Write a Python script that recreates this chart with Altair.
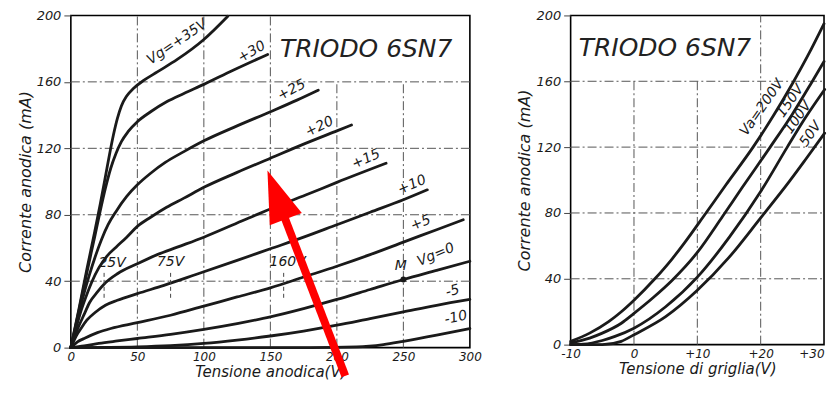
import altair as alt
import pandas as pd

FONT = "DejaVu Sans"
INK = "#1a1a1a"
GRID = "#555555"

# ---------------- Left panel: anode characteristics Ia(Va), one curve per grid voltage
vg35_v = [0, 6, 12, 18, 22, 26, 29, 32, 35, 38, 42, 47, 55, 65, 80, 100, 118]
vg35_i = [0, 23, 47, 70, 86, 103, 116, 128, 138, 145.5, 151.5, 156, 161, 166, 173.5, 185.5, 199.5]
vg30_v = [0, 6, 12, 18, 22, 26, 30, 34, 38, 43, 50, 60, 72, 85, 100, 122, 148]
vg30_i = [0, 22, 45, 67, 82, 96, 108, 117, 124, 130, 136, 142, 148, 153, 158.5, 167, 176.5]
vg25_v = [0, 5, 10, 14, 18, 23, 28, 34, 42, 50, 60, 71, 85, 100, 125, 150, 170, 186]
vg25_i = [0, 17, 33, 44, 54, 65, 74, 82, 91, 98, 105, 111.5, 118, 124.5, 133.5, 142, 149, 155]
vg20_v = [0, 4, 8, 12, 16, 21, 27, 34, 42, 50, 60, 72, 85, 100, 125, 150, 175, 200, 211]
vg20_i = [0, 12, 23, 32, 40, 48, 55, 60.5, 66.5, 73, 78.5, 84.5, 90, 96.5, 105.5, 114, 122.5, 130.5, 134]
vg15_v = [0, 3, 6, 10, 14, 20, 26, 35, 50, 65, 80, 100, 125, 150, 177, 200, 237]
vg15_i = [0, 7, 13, 20, 27, 33.5, 39, 44.5, 50.5, 56, 60.5, 66.5, 75, 83.5, 92, 99.5, 111]
vg10_v = [0, 4, 8, 12, 18, 26, 35, 50, 70, 94, 125, 150, 175, 200, 225, 250, 268]
vg10_i = [0, 7, 12, 16.5, 21, 25.5, 28.5, 32.5, 37.5, 44, 52.5, 59.5, 66.5, 74, 81.5, 89, 95]
vg5_v = [0, 5, 10, 20, 30, 50, 75, 100, 125, 150, 175, 200, 225, 250, 275, 295]
vg5_i = [0, 3.5, 5.5, 9, 11.5, 15, 19.5, 25, 30.5, 36, 42.5, 49, 56, 63.5, 71, 77]
vg0_v = [0, 10, 21, 35, 50, 75, 100, 125, 150, 175, 200, 225, 250, 275, 300]
vg0_i = [0, 1, 2.5, 4, 5.5, 8, 11, 14.5, 18.5, 23.5, 29, 35, 41, 46.5, 52]
vgm5_v = [0, 50, 75, 100, 125, 150, 175, 200, 225, 250, 275, 300]
vgm5_i = [0, 0.5, 1.2, 2.5, 4.5, 7, 10, 13.5, 17.5, 21.5, 25.5, 29]
vgm10_v = [0, 180, 215, 235, 250, 275, 300]
vgm10_i = [0, 0, 0.4, 1.8, 3.8, 7.5, 11.5]

left_names = ["+35", "+30", "+25", "+20", "+15", "+10", "+5", "0", "-5", "-10"]
left_vs = [vg35_v, vg30_v, vg25_v, vg20_v, vg15_v, vg10_v, vg5_v, vg0_v, vgm5_v, vgm10_v]
left_is = [vg35_i, vg30_i, vg25_i, vg20_i, vg15_i, vg10_i, vg5_i, vg0_i, vgm5_i, vgm10_i]

# curve labels (text, V, I, angle)
left_lab_text = ["Vg=+35V", "+30", "+25", "+20", "+15", "+10", "+5", "M", "Vg=0", "-5", "-10", "25V", "75V", "160V"]
left_lab_v = [80, 136, 166, 187, 222, 256.5, 263, 248, 274.5, 287, 289.5, 31, 75, 163]
left_lab_i = [184, 178, 155, 133, 113.5, 98, 75, 49, 56, 34, 18, 51, 51.5, 51.5]
left_lab_ang = [326, 330, 332, 334, 336, 337, 338, 0, 337, 345, 348, 0, 0, 0]

# bias markers and operating point
mark_v = [25, 75, 160]
point_m_v = [250]
point_m_i = [41]

left_vgrid_x = [50, 100, 150, 200, 250]
left_vgrid_top = [200, 200, 200, 160, 160]
left_hgrid_y = [40, 80, 120, 160]
left_x_ticks = [0, 50, 100, 150, 200, 250, 300]
y_ticks = [0, 40, 80, 120, 160, 200]

# ---------------- Right panel: mutual characteristics Ia(Vg), one curve per anode voltage
va200_g = [-10, -7, -4, -2, 0, 3.3, 6, 8, 11, 14.5, 18.8, 22, 25, 27.5, 30]
va200_i = [2, 7, 14, 20, 27, 40, 52, 62, 78, 97, 120, 139, 158.5, 176, 195]
va150_g = [-10, -7, -5, -2, 0, 3, 6, 10, 14, 17, 21.5, 25, 28, 30]
va150_i = [1, 4, 7, 13, 19, 28.5, 39, 56, 78, 95, 120, 140, 159, 172]
va100_g = [-10, -8, -5, -3, 0, 5, 10, 15, 20, 24.2, 27, 30.1]
va100_i = [0, 0.3, 2.5, 5, 10, 23, 41, 65, 93, 120, 137.5, 155]
va50_g = [-10, -5, -2, 0, 5, 10, 15, 20, 24.5, 27, 30.1]
va50_i = [0, 0, 2, 6, 17, 33, 53, 77, 99, 112, 128.5]

right_names = ["200", "150", "100", "50"]
right_gs = [va200_g, va150_g, va100_g, va50_g]
right_is = [va200_i, va150_i, va100_i, va50_i]

right_lab_text = ["Va=200V", "150V", "100V", "50V"]
right_lab_g = [20.2, 24.7, 25.9, 27.9]
right_lab_i = [144, 148, 138, 128]
right_lab_ang = [305, 305, 305, 305]

right_vgrid_x = [0, 10, 20]
right_vgrid_top = [160, 160, 200]
right_hgrid_y = [40, 80, 120, 160]
right_x_ticks = [-10, 0, 10, 20, 30]

# red arrow (annotation drawn over the left panel, data units of that panel)
arrow_tail = (206.3, -17)
arrow_neck = (158, 84)
arrow_head = (154.7, 92)

# ---------------- build tables
def long_table(names, xs, ys):
    rows = []
    for n, xv, yv in zip(names, xs, ys):
        for a, b in zip(xv, yv):
            rows.append({"serie": n, "V": a, "I": b})
    return pd.DataFrame(rows)

left_df = long_table(left_names, left_vs, left_is)
right_df = long_table(right_names, right_gs, right_is)


def axis_x(values, title, label_expr=None, last_right=False):
    kw = dict(values=values, title=title, grid=False, domain=False, ticks=False,
              labelPadding=4, labelFont=FONT, labelFontStyle="italic", labelFontSize=12,
              labelColor=INK, titleFont=FONT, titleFontStyle="italic", titleFontWeight="normal",
              titleFontSize=15, titleColor=INK, titlePadding=2, labelFlush=False)
    if label_expr:
        kw["labelExpr"] = label_expr
    if last_right:
        kw["labelAlign"] = {"condition": {"test": "datum.value >= 30", "value": "right"}, "value": "center"}
    return alt.Axis(**kw)


axis_y = alt.Axis(values=y_ticks, title="Corrente anodica (mA)", grid=False, domain=False,
                  ticks=True, tickSize=7, tickColor="#444", tickWidth=1, labelPadding=3,
                  labelFont=FONT, labelFontStyle="italic", labelFontSize=13, labelColor=INK,
                  titleFont=FONT, titleFontStyle="italic", titleFontWeight="normal",
                  titleFontSize=16, titleColor=INK, titlePadding=3)


def make_panel(df, xdom, xaxis, vgx, vgtop, hgy, lab_text, lab_x, lab_y, lab_ang,
               title_x, title_y, width, height, extra=None):
    X = alt.X("V:Q", scale=alt.Scale(domain=xdom, nice=False, zero=False), axis=xaxis)
    Y = alt.Y("I:Q", scale=alt.Scale(domain=[0, 200], nice=False), axis=axis_y)

    vg = pd.DataFrame({"V": vgx, "I": [0] * len(vgx), "I2": vgtop})
    hg = pd.DataFrame({"I": hgy, "V": [xdom[0]] * len(hgy), "V2": [xdom[1]] * len(hgy)})
    grid_v = alt.Chart(vg).mark_rule(color=GRID, strokeWidth=1, strokeDash=[9, 3, 2, 3]).encode(
        x=X, y=Y, y2="I2:Q")
    grid_h = alt.Chart(hg).mark_rule(color=GRID, strokeWidth=1, strokeDash=[9, 3, 2, 3]).encode(
        y=Y, x=X, x2="V2:Q")
    curves = alt.Chart(df).mark_line(color=INK, strokeWidth=2.8, interpolate="monotone",
                                     strokeCap="round").encode(x=X, y=Y, detail="serie:N")
    labs = pd.DataFrame({"text": lab_text, "V": lab_x, "I": lab_y, "ang": lab_ang})
    texts = alt.Chart(labs).mark_text(font=FONT, fontStyle="italic", fontSize=14, color=INK).encode(
        x=X, y=Y, text="text:N", angle=alt.Angle("ang:Q", scale=None))
    tdf = pd.DataFrame({"text": ["TRIODO 6SN7"], "V": [title_x], "I": [title_y]})
    title = alt.Chart(tdf).mark_text(font=FONT, fontStyle="italic", fontSize=25, color="#222",
                                     fontWeight=300).encode(x=X, y=Y, text="text:N")
    layers = [grid_v, grid_h, curves, texts, title]
    if extra:
        layers += extra(X, Y)
    return alt.layer(*layers).properties(width=width, height=height)


def left_extra(X, Y):
    mk = pd.DataFrame({"V": mark_v, "I": [30] * len(mark_v), "I2": [45] * len(mark_v)})
    markers = alt.Chart(mk).mark_rule(color="#444", strokeWidth=1, strokeDash=[4, 3]).encode(
        x=X, y=Y, y2="I2:Q")
    mdf = pd.DataFrame({"V": point_m_v, "I": point_m_i})
    mpt = alt.Chart(mdf).mark_point(filled=True, color=INK, size=35, opacity=1).encode(x=X, y=Y)
    sh = pd.DataFrame({"V": [arrow_tail[0]], "I": [arrow_tail[1]],
                       "V2": [arrow_neck[0]], "I2": [arrow_neck[1]]})
    shaft = alt.Chart(sh).mark_rule(color="#ff0000", strokeWidth=8, strokeCap="butt").encode(
        x=X, y=Y, x2="V2:Q", y2="I2:Q")
    hd = pd.DataFrame({"V": [arrow_head[0]], "I": [arrow_head[1]]})
    head = alt.Chart(hd).mark_point(shape="M0,-1L0.66,1L-0.66,1Z", size=2704, angle=339.3,
                                    filled=True, color="#ff0000", opacity=1, strokeWidth=0).encode(
        x=X, y=Y)
    return [markers, mpt, shaft, head]


left = make_panel(left_df, [0, 300], axis_x(left_x_ticks, "Tensione anodica(V)"),
                  left_vgrid_x, left_vgrid_top, left_hgrid_y,
                  left_lab_text, left_lab_v, left_lab_i, left_lab_ang,
                  222, 180, 400, 333, extra=left_extra)

right = make_panel(right_df, [-10, 30],
                   axis_x(right_x_ticks, "Tensione di griglia(V)",
                          label_expr="datum.value > 0 ? '+' + datum.value : '' + datum.value",
                          last_right=True),
                   right_vgrid_x, right_vgrid_top, right_hgrid_y,
                   right_lab_text, right_lab_g, right_lab_i, right_lab_ang,
                   4.9, 180, 254, 330)

chart = alt.hconcat(left, right, spacing=33).properties(
    padding={"left": 8, "top": 0, "right": 0, "bottom": 0}
).configure_view(stroke="black", strokeWidth=1.6)

chart.save("out.html", embed_options={"renderer": "svg", "actions": False})
